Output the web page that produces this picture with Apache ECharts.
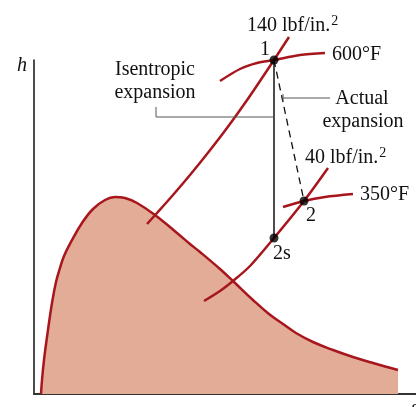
<!DOCTYPE html>
<html><head><meta charset="utf-8">
<script src="https://cdn.jsdelivr.net/npm/echarts@6/dist/echarts.min.js"></script>
<style>html,body{margin:0;padding:0;background:#fff}#c{width:416px;height:407px}</style>
</head><body><div id="c"></div>
<script>
// h–s diagram, units are arbitrary (s to the right, h upward)
const dome = [[7,0],[8,14],[10,34],[13,57],[18,91],[22,112],[26,126],[30,138],[38,154],[48,171],[59,185],[71,194],[81,197],[91,196],[103,191],[121,179],[143,161],[156,150],[166,142],[186,125],[200,112],[219,94],[235,80],[249,70],[262,61],[279,52],[299,44],[319,37],[339,31],[364,24]];
const p140 = [[113,170],[123,181],[139,199],[156,219],[173,240],[193,266],[211,291],[226,313],[240,334],[255,357]];
const t600 = [[186,313],[206,325],[223,331],[240,334],[266,339],[291,341]];
const p40 = [[170,93],[186,103],[199,113],[216,128],[240,156],[270,193],[294,226]];
const t350 = [[249,187],[270,193],[291,197],[319,200]];
const state1 = [240,334];
const state2s = [240,156];
const state2 = [270,193];
const leaderIsen = [[122,287],[122,277],[239,277]];
const leaderActTick = [[249,300],[249,292]];
const leaderAct = [[249,296],[296,296]];

const RED = '#A8161D';
const FILL = '#E2AC97';
const SERIF = '"Liberation Serif","DejaVu Serif",serif';

function curve(data, color, width, extra) {
  return Object.assign({type:'line', data, smooth:0.3, symbol:'none', clip:false,
    lineStyle:{color, width}, z:3, silent:true}, extra||{});
}
const chart = echarts.init(document.getElementById('c'), null, {renderer:'canvas'});
const txt = (text, x, y, align, opts) => Object.assign({type:'text', style:Object.assign({text, x, y,
  font:'20px ' + SERIF, fill:'#111', textAlign:align||'left', textVerticalAlign:'middle',
  align:align||'left', verticalAlign:'middle'}, opts||{})});
const supText = (main, x, y) => ({type:'text', style:{text:'{a|'+main+'}{b|2}', x, y,
  textAlign:'left', align:'left', textVerticalAlign:'middle', verticalAlign:'middle', fill:'#111',
  rich:{a:{fontSize:20, fontFamily:SERIF, fill:'#111', verticalAlign:'bottom', lineHeight:22},
        b:{fontSize:14, fontFamily:SERIF, fill:'#111', verticalAlign:'top', lineHeight:14, padding:[0,0,0,1]}}}});
chart.setOption({
  animation:false,
  grid:{left:34, right:0, top:60, bottom:13},
  xAxis:{type:'value', min:0, max:382, axisLine:{show:true, lineStyle:{color:'#333', width:2}},
    axisTick:{show:false}, axisLabel:{show:false}, splitLine:{show:false}},
  yAxis:{type:'value', min:0, max:334, axisLine:{show:true, lineStyle:{color:'#111', width:1.5}},
    axisTick:{show:false}, axisLabel:{show:false}, splitLine:{show:false}},
  series:[
    curve(dome, RED, 2.5, {areaStyle:{color:FILL, opacity:1}, z:2, smooth:0.4}),
    curve(p140, RED, 2.5),
    curve(t600, RED, 2.5),
    curve(p40, RED, 2.5),
    curve(t350, RED, 2.5),
    curve([state1, state2s], '#111', 1.5, {smooth:false, z:4}),
    curve([state1, state2], '#111', 1.3, {smooth:false, z:4, lineStyle:{color:'#111', width:1.3, type:[7,5]}}),
    curve(leaderIsen, '#555', 1, {smooth:false, z:4}),
    curve(leaderActTick, '#555', 1, {smooth:false, z:4}),
    curve(leaderAct, '#555', 1, {smooth:false, z:4}),
    {type:'scatter', data:[state1, state2s, state2], symbol:'circle', symbolSize:9, clip:false,
      itemStyle:{color:'#000'}, z:5, silent:true}
  ],
  graphic:[
    supText('140 lbf/in.', 247, 25),
    txt('1', 265, 50, 'center'),
    txt('600°F', 332, 55),
    txt('h', 17, 66, 'left', {font:'italic 20px ' + SERIF}),
    txt('Isentropic', 155, 70, 'center'),
    txt('expansion', 155, 93, 'center'),
    txt('Actual', 362, 99, 'center'),
    txt('expansion', 363, 122, 'center'),
    supText('40 lbf/in.', 305, 157),
    txt('350°F', 360, 195),
    txt('2', 311, 216, 'center'),
    txt('2s', 273, 254, 'left'),
    txt('s', 411, 409, 'left', {font:'italic 20px ' + SERIF})
  ]
});
</script></body></html>
